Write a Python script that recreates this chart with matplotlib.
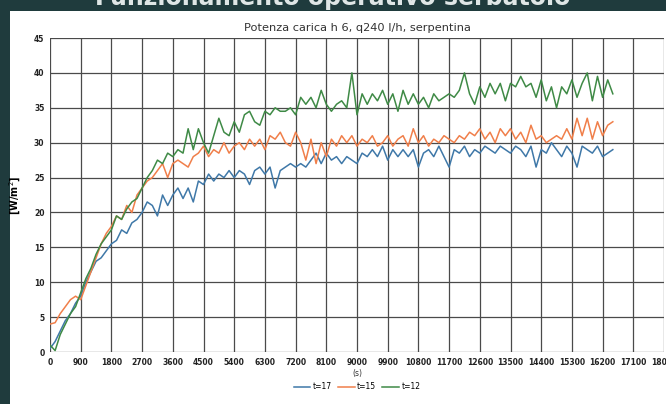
import numpy as np
import matplotlib.pyplot as plt

# time axis [s], one reading every 150 s
t = np.arange(0, 16650, 150)

t17 = [0.5, 1.5, 3.0, 4.5, 5.5, 7.0, 8.0, 10.0, 11.5, 13.0,
       13.5, 14.5, 15.5, 16.0, 17.5, 17.0, 18.5, 19.0, 20.0, 21.5,
       21.0, 19.5, 22.5, 21.0, 22.5, 23.5, 22.0, 23.5, 21.5, 24.5,
       24.0, 25.5, 24.5, 25.5, 25.0, 26.0, 25.0, 26.0, 25.5, 24.0,
       26.0, 26.5, 25.5, 26.5, 23.5, 26.0, 26.5, 27.0, 26.5, 27.0,
       26.5, 27.5, 28.5, 27.0, 28.5, 27.5, 28.0, 27.0, 28.0, 27.5,
       27.0, 28.5, 28.0, 29.0, 28.0, 29.5, 27.5, 29.0, 28.0, 29.0,
       28.0, 29.0, 26.5, 28.5, 29.0, 28.0, 29.5, 28.0, 26.5, 29.0,
       28.5, 29.5, 28.0, 29.0, 28.5, 29.5, 29.0, 28.5, 29.5, 29.0,
       28.5, 29.5, 29.0, 28.0, 29.5, 26.5, 29.0, 28.5, 30.0, 29.0,
       28.0, 29.5, 28.5, 26.5, 29.5, 29.0, 28.5, 29.5, 28.0, 28.5, 29.0]

t15 = [4.0, 4.2, 5.5, 6.5, 7.5, 8.0, 7.5, 9.5, 11.5, 13.5,
       15.5, 17.0, 18.0, 19.5, 19.0, 21.0, 20.0, 22.5, 23.5, 24.5,
       25.0, 26.0, 27.0, 25.0, 27.0, 27.5, 27.0, 26.5, 28.0, 28.5,
       29.5, 28.0, 29.0, 28.5, 30.0, 28.5, 29.5, 30.0, 29.0, 30.5,
       29.5, 30.5, 29.0, 31.0, 30.5, 31.5, 30.0, 29.5, 31.5, 30.0,
       27.5, 30.5, 27.0, 30.0, 28.0, 30.5, 29.5, 31.0, 30.0, 31.0,
       29.5, 30.5, 30.0, 31.0, 29.5, 30.0, 31.0, 29.5, 30.5, 31.0,
       29.5, 32.0, 30.0, 31.0, 29.5, 30.5, 30.0, 31.0, 30.5, 30.0,
       31.0, 30.5, 31.5, 31.0, 32.0, 30.5, 31.5, 30.0, 32.0, 31.0,
       32.0, 30.5, 31.5, 30.0, 32.5, 30.5, 31.0, 30.0, 30.5, 31.0,
       30.5, 32.0, 30.5, 33.5, 31.0, 33.5, 30.5, 33.0, 31.0, 32.5, 33.0]

t12 = [1.0, 0.2, 2.5, 4.0, 5.5, 6.5, 8.5, 10.5, 12.0, 14.0,
       15.5, 16.5, 17.5, 19.5, 19.0, 20.5, 21.5, 22.0, 23.5, 25.0,
       26.0, 27.5, 27.0, 28.5, 28.0, 29.0, 28.5, 32.0, 29.0, 32.0,
       30.0, 28.5, 31.0, 33.5, 31.5, 31.0, 33.0, 31.5, 34.0, 34.5,
       33.0, 32.5, 34.5, 34.0, 35.0, 34.5, 34.5, 35.0, 34.0, 36.5,
       35.5, 36.5, 35.0, 37.5, 35.5, 34.5, 35.5, 36.0, 35.0, 40.0,
       34.0, 37.0, 35.5, 37.0, 36.0, 37.5, 35.5, 37.0, 34.5, 37.5,
       35.5, 37.0, 35.5, 36.5, 35.0, 37.0, 36.0, 36.5, 37.0, 36.5,
       37.5, 40.0, 37.0, 35.5, 38.0, 36.5, 38.5, 37.0, 38.5, 36.0,
       38.5, 38.0, 39.5, 38.0, 38.5, 36.5, 39.0, 36.0, 38.0, 35.0,
       38.0, 37.0, 39.0, 36.5, 38.5, 40.0, 36.0, 39.5, 36.5, 39.0, 37.0]

labels = ['t=17', 't=15', 't=12']
colors = ['#3f78a8', '#f07f4a', '#3f8a46']

fig = plt.figure(figsize=(6.66, 4.04), dpi=100)
fig.patch.set_facecolor('#1f3b3d')

# white slide panel
panel = fig.add_axes([10/666, 0.0, 1.0, 1 - 11/404])
panel.set_facecolor('white')
panel.set_xticks([])
panel.set_yticks([])
for s in panel.spines.values():
    s.set_visible(False)
panel.set_zorder(0)

# slide heading, mostly cut by the top edge as in the screenshot
fig.text(0.5, 1.0 - 5/404, 'Funzionamento operativo serbatoio', color='#dfe6e6',
         fontsize=17, fontweight='bold', ha='center', va='baseline')

ax = fig.add_axes([50/666, 1 - 352/404, 614/666, 314/404])
ax.set_zorder(1)
ax.set_facecolor('white')
for s, c, l in zip([t17, t15, t12], colors, labels):
    ax.plot(t, s, color=c, lw=1.1, label=l)

ax.set_xlim(0, 18000)
ax.set_ylim(0, 45)
ax.set_xticks(np.arange(0, 18001, 900))
ax.set_yticks(np.arange(0, 46, 5))
ax.grid(True, color='#4a4a4a', lw=0.9)
ax.set_axisbelow(True)
for s in ax.spines.values():
    s.set_visible(False)
ax.tick_params(length=0, labelsize=5.5, pad=4)
for lab in ax.get_xticklabels() + ax.get_yticklabels():
    lab.set_fontweight('bold')
    lab.set_color('#222222')

ax.set_title('Potenza carica h 6, q240 l/h, serpentina', fontsize=8.2,
             color='#333333', pad=5)
ax.set_ylabel('[W/m$^2$]', fontsize=7, fontweight='bold', labelpad=8)
ax.set_xlabel('(s)', fontsize=5.5, labelpad=2, color='#333333')
ax.legend(loc='upper center', bbox_to_anchor=(0.5, -0.075), ncol=3,
          frameon=False, fontsize=5.5, handlelength=2.2, columnspacing=0.8,
          handletextpad=0.3)

fig.savefig('out.png', dpi=100, facecolor=fig.get_facecolor())
